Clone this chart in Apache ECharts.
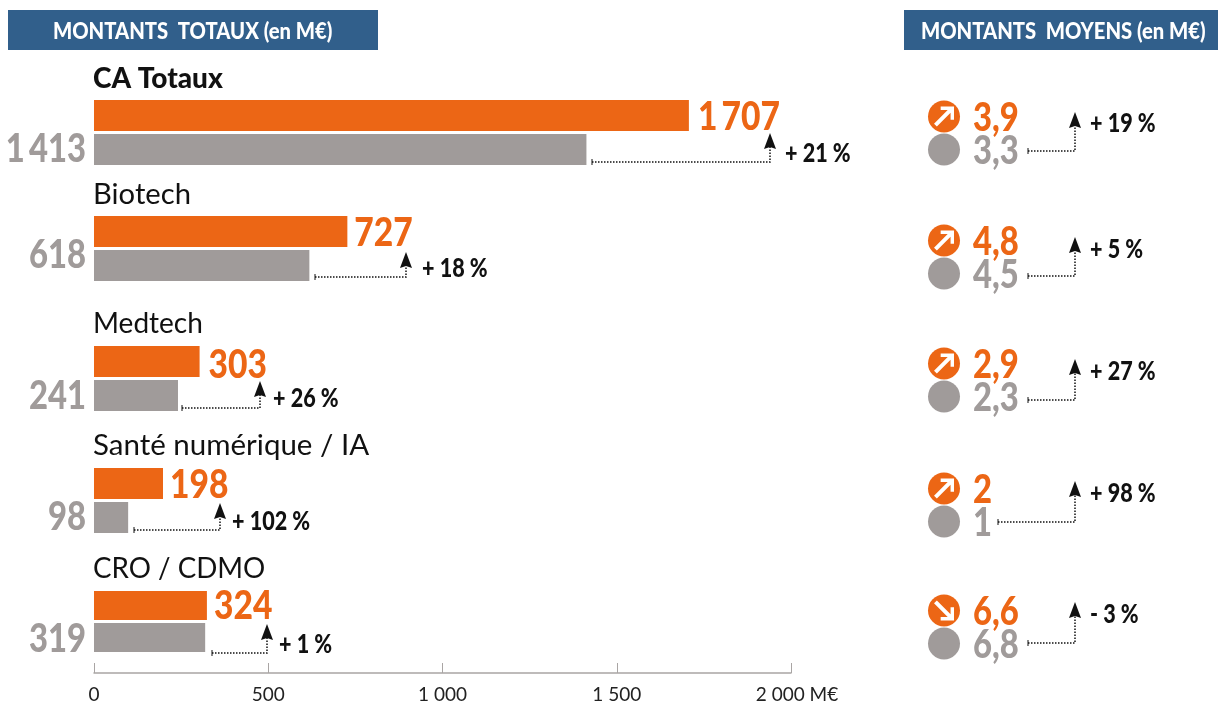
<!DOCTYPE html>
<html>
<head>
<meta charset="utf-8">
<style>
  html, body { margin: 0; padding: 0; background: #fff; }
  #chart { width: 1218px; height: 704px; }
</style>
<script src="https://cdn.jsdelivr.net/npm/echarts@6/dist/echarts.min.js"></script>
</head>
<body>
<div id="chart"></div>
<script>
// data
const categories = ["CA Totaux", "Biotech", "Medtech", "Santé numérique / IA", "CRO / CDMO"];
const totalCurrent = [1707, 727, 303, 198, 324];
const totalPrevious = [1413, 618, 241, 98, 319];
const totalChange = ["+ 21 %", "+ 18 %", "+ 26 %", "+ 102 %", "+ 1 %"];
const meanCurrent = [3.9, 4.8, 2.9, 2, 6.6];
const meanPrevious = [3.3, 4.5, 2.3, 1, 6.8];
const meanChange = ["+ 19 %", "+ 5 %", "+ 27 %", "+ 98 %", "- 3 %"];
const axisTicks = { "0": "0", "500": "500", "1000": "1 000", "1500": "1 500", "2000": "{unit|2 000 M€}" };

// layout, one entry per row
const barTops = [100, 216, 346, 468, 591];
const labelY = [79, 194, 323, 445, 568];
const labelScale = [1, 0.99, 0.95, 1, 0.94];
const currentShift = [2, 2, 4, 2, 2];
const currentDx = [9, 7, 9, 7, 7];
const previousShift = [0, -10, 1, 0, 1];
const totalBrackets = [
  { x0: 592, x1: 770, y: 162, tip: 133, tx: 785, ty: 154 },
  { x0: 315, x1: 406, y: 277, tip: 252, tx: 422, ty: 269 },
  { x0: 182, x1: 260, y: 408, tip: 381, tx: 273, ty: 399 },
  { x0: 134, x1: 220, y: 530, tip: 503, tx: 232, ty: 522 },
  { x0: 212, x1: 267, y: 653, tip: 624, tx: 279, ty: 645 },
];
const meanTops = [100, 224, 347, 472, 594];
const meanBrackets = [
  { x0: 1028, x1: 1075, y: 151, tip: 112, tx: 1090, ty: 124 },
  { x0: 1028, x1: 1075, y: 276, tip: 237, tx: 1090, ty: 250 },
  { x0: 1028, x1: 1075, y: 400, tip: 359, tx: 1090, ty: 372 },
  { x0: 998, x1: 1075, y: 522, tip: 481, tx: 1090, ty: 494 },
  { x0: 1028, x1: 1075, y: 643, tip: 602, tx: 1090, ty: 615 },
];

const ORANGE = "#ec6615";
const GREY = "#a09b9a";
const BLUE = "#315f8b";
const HEAVY = "900 40px Lato, sans-serif";
const ARROW = "path://M0 10.5 L7.2 3.3 L3.5 3.3 L3.5 1.5 L10.5 1.5 L10.5 8.5 L8.7 8.5 L8.7 4.8 L1.5 12 Z";

// thin space between thousands, as set in the original
const fmt = (v) => String(v).replace(/\B(?=(\d{3})+$)/g, "\u2009");
const fmtMean = (v) => String(v).replace(".", ",");

const grids = [];
const xAxes = [];
const yAxes = [];
const series = [];

// value text placed from the axis scale, squeezed to the condensed look of the original
const valueText = (axis, value, yPos, color, opts) => ({
  type: "custom",
  xAxisIndex: axis,
  yAxisIndex: axis,
  silent: true,
  z: 6,
  data: [[value, yPos]],
  renderItem: (params, api) => {
    const p = api.coord([api.value(0), api.value(1)]);
    return {
      type: "text",
      x: p[0] + opts.dx,
      y: p[1] + opts.dy,
      scaleX: opts.scaleX,
      style: {
        text: opts.format(value),
        fill: color,
        font: opts.font || HEAVY,
        textAlign: opts.align || "left",
        textVerticalAlign: "middle",
      },
    };
  },
});

// left panel: one grid per row, all on the same 0-2000 scale
categories.forEach((name, i) => {
  const last = i === categories.length - 1;
  grids.push({ left: 94, width: 697, top: barTops[i], height: 65 });
  xAxes.push({
    gridIndex: i,
    type: "value",
    min: 0,
    max: 2000,
    interval: 500,
    show: last,
    offset: 21,
    splitLine: { show: false },
    axisLine: { show: true, lineStyle: { color: "#a9a5a4", width: 1.5 } },
    axisTick: { show: true, inside: true, length: 10, lineStyle: { color: "#a9a5a4" } },
    axisLabel: {
      color: "#222",
      fontFamily: "Lato, sans-serif",
      fontSize: 19,
      margin: 12,
      showMaxLabel: true,
      formatter: (v) => axisTicks[v],
      rich: {
        unit: {
          color: "#222",
          fontFamily: "Lato, sans-serif",
          fontSize: 19,
          padding: [0, 0, 0, 12],
        },
      },
    },
  });
  yAxes.push({ gridIndex: i, type: "category", data: [name], show: false, inverse: true });
  series.push(
    {
      type: "bar",
      name: "Montant",
      xAxisIndex: i,
      yAxisIndex: i,
      data: [totalCurrent[i]],
      barWidth: 31,
      barGap: "10%",
      itemStyle: { color: ORANGE },
    },
    {
      type: "bar",
      name: "Précédent",
      xAxisIndex: i,
      yAxisIndex: i,
      data: [totalPrevious[i]],
      barWidth: 31,
      barGap: "10%",
      itemStyle: { color: GREY },
    },
    valueText(i, totalCurrent[i], 0, ORANGE, {
      dx: currentDx[i],
      dy: -17 + currentShift[i],
      scaleX: 0.84,
      format: fmt,
    }),
    valueText(i, 0, 0, GREY, {
      dx: -8,
      dy: 17 + previousShift[i],
      scaleX: 0.82,
      align: "right",
      format: () => fmt(totalPrevious[i]),
    })
  );
});

// right panel: two dots per row
categories.forEach((name, i) => {
  const g = grids.length;
  grids.push({ left: 928, width: 32, top: meanTops[i], height: 66 });
  xAxes.push({ gridIndex: g, type: "category", data: [name], show: false });
  yAxes.push({ gridIndex: g, type: "category", data: ["cur", "prev"], inverse: true, show: false });
  const meanOpts = { dx: 29, dy: 2, scaleX: 0.82, format: () => "" };
  series.push(
    {
      type: "scatter",
      xAxisIndex: g,
      yAxisIndex: g,
      symbolSize: 32,
      itemStyle: { color: ORANGE, opacity: 1 },
      data: [[0, 0]],
    },
    {
      type: "scatter",
      xAxisIndex: g,
      yAxisIndex: g,
      symbolSize: 32,
      itemStyle: { color: GREY, opacity: 1 },
      data: [[0, 1]],
    },
    {
      // arrow in the dot, points down when the mean fell
      type: "scatter",
      xAxisIndex: g,
      yAxisIndex: g,
      symbol: ARROW,
      symbolSize: 20,
      symbolRotate: meanCurrent[i] >= meanPrevious[i] ? 0 : -90,
      itemStyle: { color: "#fff", opacity: 1 },
      z: 5,
      data: [[0, 0]],
    },
    valueText(g, 0, 0, ORANGE, { ...meanOpts, format: () => fmtMean(meanCurrent[i]) }),
    valueText(g, 0, 1, GREY, { ...meanOpts, format: () => fmtMean(meanPrevious[i]) })
  );
});

const header = (x, width, text, textX) => [
  { type: "rect", shape: { x, y: 10, width, height: 40 }, style: { fill: BLUE } },
  {
    type: "text",
    x: textX,
    y: 31,
    scaleX: 0.86,
    style: {
      text,
      fill: "#fff",
      font: "900 23.5px Lato, sans-serif",
      textVerticalAlign: "middle",
    },
  },
];

const bracket = (b, text) => [
  {
    type: "polyline",
    shape: { points: [[b.x0, b.y], [b.x1, b.y], [b.x1, b.tip + 12]] },
    style: { stroke: "#111", lineWidth: 1.5, lineDash: [1.5, 1.5], fill: null },
  },
  {
    type: "line",
    shape: { x1: b.x0, y1: b.y - 3, x2: b.x0, y2: b.y + 3 },
    style: { stroke: "#111", lineWidth: 1 },
  },
  {
    type: "polygon",
    shape: { points: [[b.x1, b.tip], [b.x1 + 6, b.tip + 16], [b.x1, b.tip + 14], [b.x1 - 6, b.tip + 16]] },
    style: { fill: "#111" },
  },
  {
    type: "text",
    x: b.tx,
    y: b.ty,
    scaleX: 0.83,
    style: {
      text,
      fill: "#111",
      font: "900 26px Lato, sans-serif",
      textVerticalAlign: "middle",
    },
  },
];

const rowLabels = categories.map((name, i) => ({
  type: "text",
  x: 93,
  y: labelY[i],
  scaleX: labelScale[i],
  style: {
    text: name,
    fill: "#111",
    font: `${i === 0 ? "900 28px" : "29.5px"} Lato, sans-serif`,
    textVerticalAlign: "middle",
  },
}));

const graphic = [
  ...header(8, 370, "MONTANTS  TOTAUX (en M€)", 53),
  ...header(904, 314, "MONTANTS  MOYENS (en M€)", 921),
  ...rowLabels,
  ...totalBrackets.flatMap((b, i) => bracket(b, totalChange[i])),
  ...meanBrackets.flatMap((b, i) => bracket(b, meanChange[i])),
];

const chart = echarts.init(document.getElementById("chart"));
chart.setOption({
  animation: false,
  backgroundColor: "#fff",
  grid: grids,
  xAxis: xAxes,
  yAxis: yAxes,
  series,
  graphic,
});
</script>
</body>
</html>
